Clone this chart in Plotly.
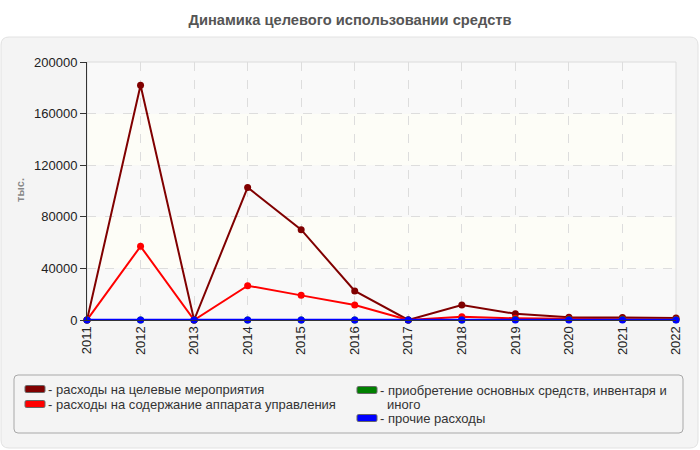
import plotly.graph_objects as go

# ------------------------- Данные --------------------------------------------
years = [2011, 2012, 2013, 2014, 2015, 2016, 2017, 2018, 2019, 2020, 2021, 2022]
celevye = [0, 182000, 0, 102800, 70000, 22500, 0, 11600, 4800, 2100, 2000, 1500]
apparat = [0, 57100, 0, 26600, 19100, 11600, 0, 2500, 1300, 700, 600, 500]
osnovnye = [0, 0, 0, 0, 0, 0, 0, 0, 300, 400, 400, 100]
prochie = [0, 0, 0, 0, 0, 0, 0, 0, 0, 0, 0, 0]

series_names = [
    'расходы на целевые мероприятия',
    'расходы на содержание аппарата управления',
    'приобретение основных средств, инвентаря и',
    'прочие расходы',
]
series_colors = ['#800000', '#ff0000', '#008000', '#0000ff']
y_ticks = [0, 40000, 80000, 120000, 160000, 200000]

# Геометрия страницы (px)
W, H = 700, 450
PL, PR, PT, PB = 87, 676, 62, 320
LEGEND_FONT = 'Liberation Sans, Arial, sans-serif'


def px_x(x):
    return (x - PL) / (PR - PL)


def px_y(y):
    return (PB - y) / (PB - PT)


def rounded_path(x0, y0, x1, y1, r):
    # прямоугольник со скруглёнными углами в координатах paper
    ax0, ax1 = px_x(x0), px_x(x1)
    ay0, ay1 = px_y(y0), px_y(y1)
    rx = r / (PR - PL)
    ry = r / (PB - PT)
    return (
        f'M {ax0 + rx},{ay0} L {ax1 - rx},{ay0} Q {ax1},{ay0} {ax1},{ay0 - ry} '
        f'L {ax1},{ay1 + ry} Q {ax1},{ay1} {ax1 - rx},{ay1} '
        f'L {ax0 + rx},{ay1} Q {ax0},{ay1} {ax0},{ay1 + ry} '
        f'L {ax0},{ay0 - ry} Q {ax0},{ay0} {ax0 + rx},{ay0} Z'
    )


fig = go.Figure()

for vals, name, color, width in zip(
    [celevye, apparat, osnovnye, prochie], series_names, series_colors, [2, 2, 2, 2.5]
):
    fig.add_trace(go.Scatter(
        x=years, y=vals, name=name, mode='lines+markers',
        line=dict(color=color, width=width),
        marker=dict(color=color, size=7),
        cliponaxis=False, showlegend=False,
    ))

shapes = []
# Панель
shapes.append(dict(type='path', xref='paper', yref='paper', layer='below',
                   path=rounded_path(1, 37, 698, 448, 8),
                   fillcolor='#f4f4f4', line=dict(color='#e2e2e2', width=1)))
# Полосы фона
band_colors = ['#f9f9f9', '#fdfdf7']
for i in range(len(y_ticks) - 1):
    shapes.append(dict(type='rect', xref='paper', yref='y', layer='below',
                       x0=0, x1=1, y0=y_ticks[i], y1=y_ticks[i + 1],
                       fillcolor=band_colors[i % 2], line=dict(width=0)))
# Рамка области построения
shapes.append(dict(type='rect', xref='paper', yref='paper', layer='below',
                   x0=0, x1=1, y0=0, y1=1, line=dict(color='#dcdcdc', width=1)))
# Рамка легенды
shapes.append(dict(type='path', xref='paper', yref='paper', layer='below',
                   path=rounded_path(14, 375, 683, 433, 4),
                   fillcolor='#f4f4f4', line=dict(color='#a8a8a8', width=1)))

annotations = []
legend_pos = [(25, 389), (25, 404), (357, 390), (357, 418)]
for (lx, ly), name, color in zip(legend_pos, series_names, series_colors):
    shapes.append(dict(type='path', xref='paper', yref='paper',
                       path=rounded_path(lx, ly - 3.5, lx + 20, ly + 3.5, 1.5),
                       fillcolor=color, line=dict(color='#666666', width=1)))
    annotations.append(dict(x=px_x(lx + 21), y=px_y(ly), xref='paper', yref='paper',
                            text='- ' + name, showarrow=False, xanchor='left',
                            yanchor='middle', align='left',
                            font=dict(family=LEGEND_FONT, size=13, color='#333333')))
# перенос строки третьей серии
annotations.append(dict(x=px_x(385), y=px_y(404), xref='paper', yref='paper',
                        text='иного', showarrow=False, xanchor='left',
                        yanchor='middle', align='left',
                        font=dict(family=LEGEND_FONT, size=13, color='#333333')))

annotations.append(dict(x=px_x(20), y=px_y(190), xref='paper', yref='paper',
                        text='<b>тыс.</b>', showarrow=False, textangle=-90,
                        xanchor='center', yanchor='middle',
                        font=dict(size=11, color='#888888')))

fig.update_layout(
    width=W, height=H,
    margin=dict(l=PL, r=W - PR, t=PT, b=H - PB, pad=0),
    paper_bgcolor='white', plot_bgcolor='rgba(0,0,0,0)',
    font=dict(family='Liberation Sans, Arial', size=13, color='#222222'),
    title=dict(text='<b>Динамика целевого использовании средств</b>',
               x=0.5, xref='container', xanchor='center',
               y=1 - 20 / H, yref='container', yanchor='middle',
               font=dict(size=14.7, color='#555555')),
    shapes=shapes, annotations=annotations,
    showlegend=False,
)

fig.update_xaxes(range=[2011, 2022], tickmode='array', tickvals=years,
                 ticktext=[str(y) for y in years], tickangle=-90,
                 showgrid=True, gridcolor='#dddddd', griddash='dash',
                 showline=True, linecolor='#333333', zeroline=False,
                 ticks='', tickfont=dict(size=13))
fig.update_yaxes(range=[0, 200000], tickmode='array', tickvals=y_ticks,
                 ticktext=[str(v) for v in y_ticks],
                 showgrid=True, gridcolor='#dddddd', griddash='dash',
                 showline=True, linecolor='#333333', zeroline=False,
                 ticks='outside', ticklen=6, tickcolor='#333333',
                 tickfont=dict(size=13))

fig.write_html('out.html', config={'displayModeBar': False},
               post_script="document.body.style.margin='0';")
